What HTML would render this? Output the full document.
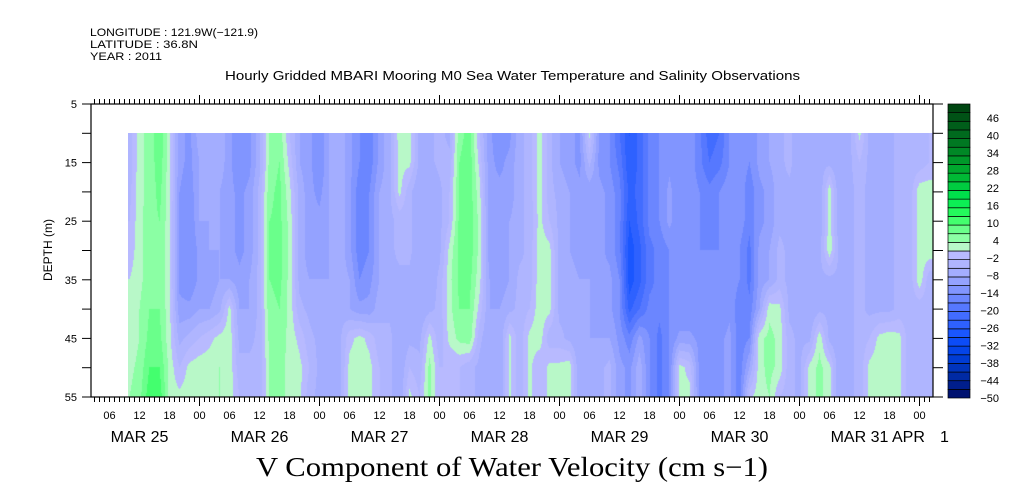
<!DOCTYPE html>
<html><head><meta charset="utf-8">
<style>
html,body{margin:0;padding:0;background:#fff;width:1009px;height:504px;overflow:hidden;position:relative}
svg{position:absolute;left:0;top:0}
canvas{position:absolute;left:128px;top:133px}
text{font-family:"Liberation Sans",sans-serif;fill:#000}
</style></head>
<body>
<canvas id="heat" width="805" height="264"></canvas>
<svg id="chart" width="1009" height="504">
<g font-size="11">
<text x="90" y="36" font-size="11" textLength="168" lengthAdjust="spacingAndGlyphs">LONGITUDE : 121.9W(−121.9)</text>
<text x="90" y="48" font-size="11" textLength="108" lengthAdjust="spacingAndGlyphs">LATITUDE : 36.8N</text>
<text x="90" y="60" font-size="11" textLength="72" lengthAdjust="spacingAndGlyphs">YEAR : 2011</text>
</g>
<text x="225" y="80" font-size="12.5" textLength="575" lengthAdjust="spacingAndGlyphs">Hourly Gridded MBARI Mooring M0 Sea Water Temperature and Salinity Observations</text>
<text x="0" y="0" font-size="12" text-anchor="middle" transform="translate(52,250) rotate(-90)">DEPTH (m)</text>
<text x="256" y="476" font-size="27" textLength="512" lengthAdjust="spacingAndGlyphs" style="font-family:'Liberation Serif',serif">V Component of Water Velocity (cm s−1)</text>
<g id="axes"></g>
<g id="cbar"></g>
</svg>
<script>
// time (hours since Mar 25 00:00) of columns, depths of rows
var colStart = 10, colStep = 2;
var depths = [10,15,20,25,30,35,40,45,50,55];
var hourLabels = ["06","12","18","00","06","12","18","00","06","12","18","00","06","12","18","00","06","12","18","00","06","12","18","00","06","12","18","00"];
var dayLabels = ["MAR 25","MAR 26","MAR 27","MAR 28","MAR 29","MAR 30","MAR 31"];
var depthLabels = [5,15,25,35,45,55];
var cbarLabels = [46,40,34,28,22,16,10,4,-2,-8,-14,-20,-26,-32,-38,-44,-50];
var values = [
[-4,-4,-3,-2,-1,1,2,2,3,4],[3,3,3,3,3,3,4,4,5,6],[5,5,5,6,6,6,7,8,10,12],[10,9,8,7,6,6,7,8,10,12],
[2,2,2,2,2,2,2,2,3,3],[-10,-10,-11,-12,-12,-12,-10,-6,-2,2],[-12,-12,-13,-14,-14,-14,-10,-4,2,3],
[-6,-8,-8,-8,-10,-10,-8,-2,3,3],[-8,-8,-8,-8,-8,-10,-8,0,3,3],[-6,-6,-8,-8,-8,-8,-6,2,4,4],
[-10,-10,-10,-10,-10,-8,2,3,3,3],[-14,-14,-12,-12,-12,-10,-8,-6,-4,-2],[-12,-12,-10,-10,-10,-8,-8,-6,-4,-4],
[-6,-6,-4,-4,-4,-4,-4,-4,-4,-4],[4,5,6,7,7,7,6,5,4,4],[6,7,8,8,8,8,7,6,5,5],[-2,0,2,3,3,3,3,3,3,3],
[-8,-8,-6,-6,-6,-6,-4,0,2,2],[-10,-10,-10,-10,-10,-8,-6,-4,-2,-4],[-14,-14,-12,-10,-10,-8,-8,-6,-6,-6],
[-8,-8,-8,-8,-8,-8,-6,-6,-6,-6],[-6,-6,-6,-6,-6,-6,-6,-6,-6,-6],[-10,-10,-10,-10,-10,-8,-8,0,2,2],
[-14,-14,-16,-16,-16,-14,-10,2,3,3],[-16,-16,-14,-14,-14,-12,-10,0,2,2],[-10,-10,-8,-8,-8,-8,-6,-4,-2,-2],
[-6,-6,-6,-6,-6,-6,-6,-4,-4,-4],[3,2,2,-4,-4,-6,-6,-8,-8,-8],[2,2,-4,-4,-4,-6,-6,-6,-2,2],
[-6,-6,-8,-8,-8,-8,-8,-6,-4,-2],[-6,-6,-8,-8,-8,-8,-6,2,5,5],[-4,-4,-6,-6,-6,-4,-4,-4,-2,-2],
[-6,-4,-2,-2,2,3,3,2,-2,-2],[6,7,7,8,8,8,7,5,-2,-2],[8,9,9,9,9,8,7,6,-4,-4],[-2,0,2,3,3,2,0,-4,-6,-6],
[-10,-10,-10,-10,-10,-8,-8,-8,-8,-8],[-14,-12,-10,-10,-10,-10,-8,-8,-8,-8],[-12,-10,-10,-8,-8,-8,-6,2,2,2],
[-6,-6,-6,-6,-6,-4,-4,-4,-4,-4],[-4,-4,-4,-4,-4,-4,-2,2,2,2],[3,3,3,2,3,3,3,3,-2,-2],
[-4,-4,-4,-2,2,2,2,-4,2,2],[-8,-8,-6,-6,-6,-6,-6,-4,2,2],[-10,-10,-8,-8,-8,-6,-6,-6,3,3],
[-12,-12,-10,-10,-10,-8,-8,-8,-8,-8],[2,-4,-10,-10,-10,-8,-8,-8,-8,-8],[-12,-12,-10,-10,-10,-10,-10,-8,-6,-6],
[-14,-14,-12,-12,-12,-10,-10,-8,-4,-4],[-20,-18,-16,-16,-16,-14,-14,-12,-10,-10],
[-26,-26,-24,-26,-28,-28,-24,-16,-12,-12],[-22,-22,-22,-22,-24,-24,-20,-10,-6,-6],
[-16,-16,-16,-16,-18,-18,-16,-14,-14,-14],[-14,-14,-14,-14,-16,-16,-16,-18,-18,-18],
[-12,-12,-10,-10,-14,-14,-14,-14,-14,-14],[-14,-14,-14,-14,-14,-14,-14,-10,2,2],
[-12,-12,-12,-12,-14,-14,-14,-10,0,2],[-16,-16,-14,-14,-14,-14,-14,-12,-12,-12],
[-22,-20,-16,-16,-14,-14,-14,-14,-14,-14],[-20,-18,-14,-14,-14,-14,-14,-12,-12,-12],
[-14,-14,-12,-12,-12,-12,-12,-10,-10,-10],[-12,-12,-12,-12,-14,-14,-16,-16,-16,-16],
[-14,-14,-16,-16,-18,-18,-16,-14,-8,0],[-10,-10,-12,-12,-10,-10,-8,3,3,3],[-8,-8,-10,-10,-8,-8,3,5,5,4],
[-6,-6,-6,-6,-4,-4,2,3,3,-2],[-4,-4,-6,-6,-6,-6,-6,-4,-4,-4],[-8,-8,-6,-6,-6,-6,-6,-6,-6,-6],
[-8,-8,-8,-8,-8,-8,-8,-6,2,2],[-6,-6,-8,-8,-6,-6,-6,3,5,5],[-6,-6,3,3,3,-6,-6,-6,2,2],
[-8,-8,-8,-8,-6,-6,-6,-8,-8,-8],[-6,-6,-6,-6,-6,-6,-6,-6,-6,-6],[2,-2,-4,-4,-4,-4,-4,-4,-4,-4],
[-6,-6,-6,-6,-6,-6,-6,-2,2,2],[-6,-6,-6,-6,-6,-6,-6,2,3,3],[-6,-6,-6,-6,-6,-6,-6,3,3,3],
[-4,-4,-4,-4,-4,-4,-4,2,2,2],[-4,-4,-4,-4,-4,-4,-4,-4,-4,-4],[-4,-4,3,3,3,3,-4,-4,-4,-4],
[-2,-2,3,3,3,-4,-4,-4,-4,-4]
];

// axis functions
function xOf(t){return 79.5 + t*5;}
function yOf(d){return 104 + (d-5)*5.86;}
var stops=[[52,[0,64,16]],[40,[0,112,32]],[28,[0,176,48]],[19,[0,232,80]],[13,[48,255,96]],[8,[112,255,144]],[5,[144,255,168]],[2.5,[184,248,200]],[-0.5,[184,186,255]],[-5,[170,178,255]],[-11,[140,156,255]],[-17,[96,126,255]],[-23,[56,102,255]],[-29,[16,80,255]],[-35,[0,64,224]],[-41,[0,48,176]],[-47,[0,24,128]],[-50,[0,12,96]]];
function colorOf(v){
  var b=Math.floor((v+50)/3); if(b<0)b=0; if(b>33)b=33;
  var m=-50+b*3+1.5;
  for(var i=0;i<stops.length-1;i++){
    var a=stops[i],c=stops[i+1];
    if(m<=a[0]&&m>=c[0]){var f=(a[0]-m)/(a[0]-c[0]);
      return [0,1,2].map(function(k){return Math.round(a[1][k]+(c[1][k]-a[1][k])*f);});}
  }
  return m>0?stops[0][1]:stops[stops.length-1][1];
}
// heatmap
(function(){
  var cv=document.getElementById('heat'),ctx=cv.getContext('2d');
  var W=cv.width,H=cv.height,img=ctx.createImageData(W,H);
  var nC=values.length,nR=depths.length;
  for(var py=0;py<H;py++){
    var d=10+(py+0.5)/5.86; var r=(d-depths[0])/(depths[1]-depths[0]);
    var r0=Math.max(0,Math.min(nR-2,Math.floor(r))),fr=Math.max(0,Math.min(1,r-r0));
    for(var px=0;px<W;px++){
      var t=(128+px+0.5-79.5)/5; var c=(t-colStart)/colStep;
      var c0=Math.max(0,Math.min(nC-2,Math.floor(c))),fc=Math.max(0,Math.min(1,c-c0));
      var v=(values[c0][r0]*(1-fc)+values[c0+1][r0]*fc)*(1-fr)+(values[c0][r0+1]*(1-fc)+values[c0+1][r0+1]*fc)*fr;
      var col=colorOf(v),i=(py*W+px)*4;
      img.data[i]=col[0];img.data[i+1]=col[1];img.data[i+2]=col[2];img.data[i+3]=255;
    }
  }
  ctx.putImageData(img,0,0);
})();
// axes
var NS="http://www.w3.org/2000/svg",ax=document.getElementById('axes');
function mk(tag,attrs,parent){var e=document.createElementNS(NS,tag);for(var k in attrs)e.setAttribute(k,attrs[k]);(parent||ax).appendChild(e);return e;}
var frame=mk('rect',{x:91,y:104,width:842,height:293,fill:'none',stroke:'#000','stroke-width':1.2});


for(var h=3;h<=170;h++){
  var x=xOf(h); if(x<91||x>933)continue;
  var maj=(h%24===0);
  var t1=mk('line',{x1:x,x2:x,y1:104,y2:maj?95:99,stroke:'#000'});
  
  
  var t2=mk('line',{x1:x,x2:x,y1:397,y2:maj?406:402,stroke:'#000'});
  
  
}
hourLabels.forEach(function(s,i){
  var tl=mk('text',{x:xOf(6+6*i),y:419,'font-size':11,'text-anchor':'middle'});tl.textContent=s;
  
  
});
dayLabels.forEach(function(s,i){
  var dl=mk('text',{x:xOf(12+24*i),y:442,'font-size':16,'text-anchor':'middle'});dl.textContent=s;
  
  
});
var apr=mk('text',{x:892,y:442,'font-size':16});apr.textContent='APR';


var apr1=mk('text',{x:940,y:442,'font-size':16});apr1.textContent='1';


for(var d=5;d<=55;d+=5){
  var yl=mk('line',{x1:82,x2:91,y1:yOf(d),y2:yOf(d),stroke:'#000'});
  
  
  var yr=mk('line',{x1:933,x2:943,y1:yOf(d),y2:yOf(d),stroke:'#000'});
  
  
}
depthLabels.forEach(function(d){
  var t=mk('text',{x:77,y:yOf(d)+4,'font-size':11,'text-anchor':'end'});t.textContent=d;
  
  
});
// colorbar
var cb=document.getElementById('cbar');
var nb=34,bh=294/nb;
for(var b=0;b<nb;b++){
  var v=-50+b*3+1.5,c=colorOf(v);
  var r=mk('rect',{x:948,y:398-(b+1)*bh,width:22,height:bh,fill:'rgb('+c.join(',')+')',stroke:'#000','stroke-width':0.7},cb);
  
  
}
cbarLabels.forEach(function(v,i){
  var y=118+i*17.5;
  var t=mk('text',{x:999,y:y+4,'font-size':11,'text-anchor':'end'},cb);t.textContent=(v<0?'−':'')+Math.abs(v);
  
  
});
</script>
</body></html>
